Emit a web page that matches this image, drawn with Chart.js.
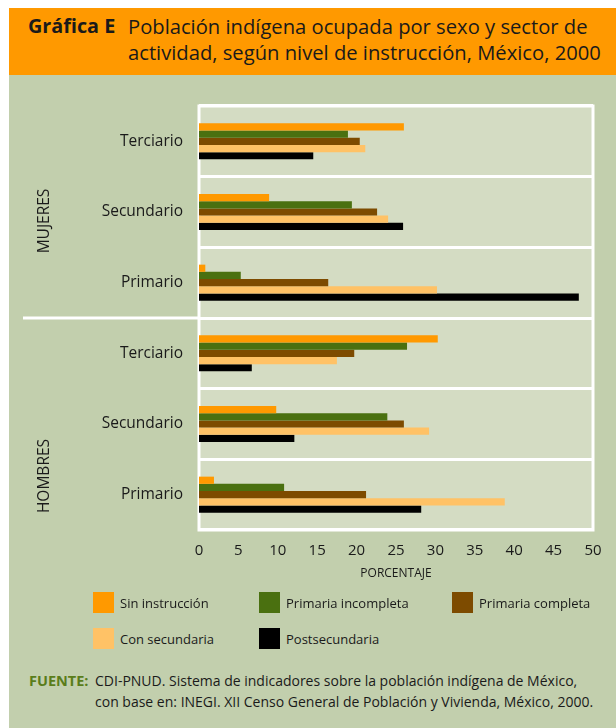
<!DOCTYPE html>
<html>
<head>
<meta charset="utf-8">
<script src="https://cdn.jsdelivr.net/npm/chart.js@4"></script>
<style>
  body { margin:0; width:616px; height:728px; background:#fff; font-family:"Open Sans", sans-serif; color:#1a1a1a; position:relative; overflow:hidden; }
  #header { position:absolute; left:9px; top:8px; width:607px; height:67px; background:#ff9900; }
  #header .tag { position:absolute; left:19px; top:5px; font-size:19.8px; line-height:26px; font-weight:bold; }
  #header .title { position:absolute; left:119px; top:5px; font-size:20.2px; line-height:26px; white-space:nowrap; }
  #body { position:absolute; left:9px; top:75px; width:607px; height:653px; background:#c2cfad; }
  #chartBox { position:absolute; left:9px; top:80px; width:607px; height:520px; }
  .group { position:absolute; font-size:15.5px; transform:translate(-50%,-50%) rotate(-90deg); white-space:nowrap; }
  #legend .item { position:absolute; font-size:13px; display:flex; align-items:center; height:21px; }
  #legend .box { width:21px; height:21px; margin-right:6px; }
  #source { position:absolute; left:29px; top:670px; font-size:14px; line-height:21px; }
  #source .lbl { position:absolute; left:0; top:0; font-weight:bold; color:#5a7d1a; font-size:14.5px; }
  #source .txt { position:absolute; left:66px; top:0; white-space:nowrap; }
</style>
</head>
<body>
<div id="header">
  <div class="tag">Gráfica E</div>
  <div class="title">Población indígena ocupada por sexo y sector de<br>actividad, según nivel de instrucción, México, 2000</div>
</div>
<div id="body"></div>
<div id="chartBox"><canvas id="chart" width="607" height="520"></canvas></div>
<div class="group" style="left:43px; top:221px;">MUJERES</div>
<div class="group" style="left:43px; top:476px;">HOMBRES</div>
<div id="legend"></div>
<div id="source">
  <span class="lbl">FUENTE:</span>
  <span class="txt">CDI-PNUD. Sistema de indicadores sobre la población indígena de México,<br>con base en: INEGI. XII Censo General de Población y Vivienda, México, 2000.</span>
</div>
<script>
// categories: sector within each sex (Mujeres first, then Hombres)
const sexes = ["MUJERES", "HOMBRES"];
const sectors = ["Terciario", "Secundario", "Primario"];
const levels = ["Sin instrucción", "Primaria incompleta", "Primaria completa", "Con secundaria", "Postsecundaria"];
const xTicks = [0, 5, 10, 15, 20, 25, 30, 35, 40, 45, 50];

// values: [M Terc, M Sec, M Prim, H Terc, H Sec, H Prim]
const sinInstruccion     = [26.0,  8.9,  0.8, 30.3,  9.8,  1.9];
const primariaIncompleta = [18.9, 19.4,  5.3, 26.4, 23.9, 10.8];
const primariaCompleta   = [20.4, 22.6, 16.4, 19.7, 26.0, 21.2];
const conSecundaria      = [21.1, 24.0, 30.2, 17.5, 29.2, 38.8];
const postsecundaria     = [14.5, 25.9, 48.2,  6.7, 12.1, 28.2];

const colors = ["#ff9900", "#4a7010", "#7d4b00", "#ffc266", "#000000"];
const series = [sinInstruccion, primariaIncompleta, primariaCompleta, conSecundaria, postsecundaria];

const labels = [];
sexes.forEach(() => sectors.forEach(s => labels.push(s)));

// legend as html
const legendPos = [[93,592],[259,592],[452,592],[93,628],[259,628]];
const legend = document.getElementById("legend");
levels.forEach((name, i) => {
    const div = document.createElement("div");
    div.className = "item";
    div.style.left = legendPos[i][0] + "px";
    div.style.top = legendPos[i][1] + "px";
    div.innerHTML = `<div class="box" style="background:${colors[i]}"></div><span>${name}</span>`;
    legend.appendChild(div);
});

// plot background, frame and the sex divider
const framePlugin = {
    id: "frame",
    beforeDraw(chart) {
        const {ctx, chartArea: a} = chart;
        ctx.save();
        ctx.fillStyle = "#d4dcc3";
        ctx.fillRect(a.left, a.top, a.right - a.left, a.bottom - a.top);
        ctx.restore();
    },
    beforeDatasetsDraw(chart) {
        const {ctx, chartArea: a, scales} = chart;
        ctx.save();
        ctx.strokeStyle = "#ffffff";
        ctx.lineWidth = 3;
        ctx.strokeRect(a.left, a.top, a.right - a.left, a.bottom - a.top);
        const y = (scales.y.getPixelForValue(sectors.length - 1) + scales.y.getPixelForValue(sectors.length)) / 2;
        ctx.beginPath();
        ctx.moveTo(14, y);
        ctx.lineTo(a.left, y);
        ctx.stroke();
        ctx.restore();
    }
};

const ctx = document.getElementById("chart").getContext("2d");
new Chart(ctx, {
    type: "bar",
    data: {
        labels,
        datasets: levels.map((name, i) => ({
            label: name, data: series[i], backgroundColor: colors[i],
            barPercentage: 1, categoryPercentage: 0.51
        }))
    },
    options: {
        indexAxis: "y",
        responsive: false,
        animation: false,
        layout: { padding: { top: 26, right: 23, left: 0, bottom: 0 } },
        plugins: { legend: { display: false }, tooltip: { enabled: false } },
        scales: {
            x: {
                min: 0, max: 50,
                afterFit: s => { s.height = 70; },
                afterBuildTicks: s => { s.ticks = xTicks.map(v => ({value: v})); },
                grid: { display: false },
                border: { display: false },
                ticks: { color: "#1a1a1a", padding: 4, font: { family: "Open Sans", size: 15 } },
                title: { display: true, text: "PORCENTAJE", color: "#1a1a1a",
                         font: { family: "Open Sans", size: 12 }, padding: { top: 0, bottom: 19 } }
            },
            y: {
                afterFit: s => { s.width = 190; },
                grid: { color: "#ffffff", lineWidth: 3, drawTicks: false, offset: true },
                border: { display: false },
                ticks: { color: "#1a1a1a", padding: 16, font: { family: "Open Sans", size: 15.5 } }
            }
        }
    },
    plugins: [framePlugin]
});
</script>
</body>
</html>
